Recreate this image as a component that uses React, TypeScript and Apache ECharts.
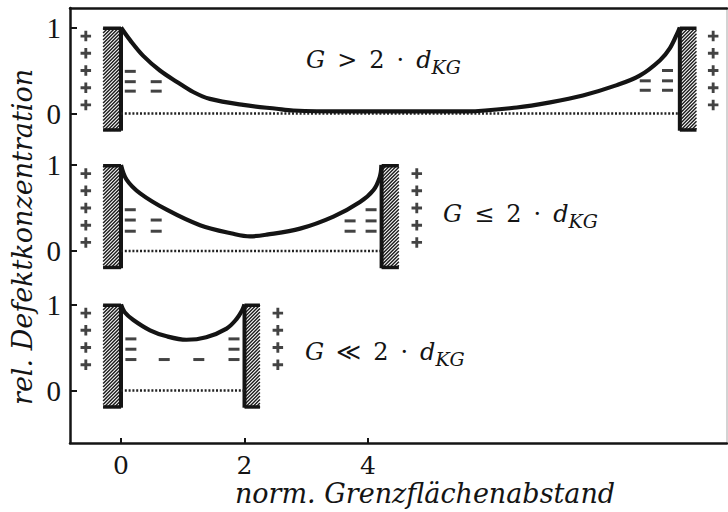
import { useEffect, useRef } from "react";
import * as echarts from "echarts";

// Shared horizontal scale (normalised interface distance)
const X_MIN = -0.826;
const X_MAX = 9.814;
const xTickValues = [0, 2, 4];
const yTickValues = [0, 1];

// Wall vertical extent (relative concentration units)
const WALL_TOP = 1;
const WALL_BOTTOM = -0.2;

// Panel A: G > 2·d_KG
const curveA: [number, number][] = [
  [0, 1], [0.15, 0.85], [0.36, 0.67], [0.63, 0.5], [0.9, 0.37], [1.17, 0.25],
  [1.44, 0.17], [1.98, 0.1], [2.52, 0.055], [2.79, 0.035], [3.6, 0.025],
  [4.68, 0.025], [5.6, 0.025], [6.41, 0.07], [6.95, 0.13], [7.48, 0.21],
  [8.03, 0.33], [8.4, 0.44], [8.73, 0.62], [8.89, 0.76], [9.02, 0.95], [9.05, 1],
];
const wallsA: [number, number][] = [[-0.29, 0], [9.05, 9.32]];
const plusColsA = [-0.57, 9.59];
const plusLevelsA = [0.1, 0.3, 0.5, 0.7, 0.9];
const minusA: [number, number][] = [
  [0.15, 0.49], [0.15, 0.37], [0.15, 0.26], [0.57, 0.37], [0.57, 0.26],
  [8.85, 0.5], [8.85, 0.38], [8.85, 0.27], [8.49, 0.38], [8.49, 0.27],
];

// Panel B: G ≤ 2·d_KG
const curveB: [number, number][] = [
  [0, 1], [0.09, 0.83], [0.31, 0.67], [0.74, 0.48], [1.28, 0.3], [1.82, 0.2],
  [2.09, 0.17], [2.36, 0.19], [2.9, 0.26], [3.44, 0.4], [3.87, 0.57],
  [4.09, 0.71], [4.19, 0.86], [4.22, 1],
];
const wallsB: [number, number][] = [[-0.29, 0], [4.22, 4.5]];
const plusColsB = [-0.57, 4.79];
const plusLevelsB = [0.1, 0.3, 0.5, 0.7, 0.9];
const minusB: [number, number][] = [
  [0.15, 0.48], [0.15, 0.36], [0.15, 0.23], [0.57, 0.36], [0.57, 0.23],
  [4.05, 0.48], [4.05, 0.35], [4.05, 0.23], [3.71, 0.35], [3.71, 0.23],
];

// Panel C: G ≪ 2·d_KG
const curveC: [number, number][] = [
  [0, 1], [0.06, 0.91], [0.2, 0.82], [0.47, 0.7], [0.74, 0.63], [1.06, 0.59],
  [1.38, 0.62], [1.71, 0.72], [1.87, 0.83], [1.96, 0.93], [2, 1],
];
const wallsC: [number, number][] = [[-0.29, 0], [2.0, 2.25]];
const plusColsC = [-0.57, 2.54];
const plusLevelsC = [0.3, 0.5, 0.7, 0.9];
const minusC: [number, number][] = [
  [0.16, 0.6], [0.16, 0.48], [0.16, 0.36], [0.7, 0.36], [1.26, 0.36],
  [1.83, 0.6], [1.83, 0.48], [1.83, 0.36],
];

const INK = "#141414";
const PLUS_PATH = "path://M4 0h3v4h4v3h-4v4h-3v-4h-4v-3h4z";

type Panel = {
  curve: [number, number][];
  walls: [number, number][];
  plusCols: number[];
  plusLevels: number[];
  minus: [number, number][];
  top: number;
};

const PX_PER_UNIT = 86;
const panels: Panel[] = [
  { curve: curveA, walls: wallsA, plusCols: plusColsA, plusLevels: plusLevelsA, minus: minusA, top: 27.5 },
  { curve: curveB, walls: wallsB, plusCols: plusColsB, plusLevels: plusLevelsB, minus: minusB, top: 165 },
  { curve: curveC, walls: wallsC, plusCols: plusColsC, plusLevels: plusLevelsC, minus: minusC, top: 304.5 },
];

// Hatched wall: "/" hatching clipped to the rectangle, thick inner edge and caps
function renderWall(_params: any, api: any) {
  const a = api.value(0) as number;
  const b = api.value(1) as number;
  const p0 = api.coord([Math.min(a, b), WALL_TOP]);
  const p1 = api.coord([Math.max(a, b), WALL_BOTTOM]);
  const L = p0[0], T = p0[1], R = p1[0], B = p1[1];
  const innerX = Math.max(a, b) <= 0 ? R : L;
  const children: any[] = [];
  for (let c = L + T + 2; c <= R + B; c += 3.5) {
    const xs = Math.max(L, c - B);
    const xe = Math.min(R, c - T);
    if (xe > xs) {
      children.push({
        type: "line",
        shape: { x1: xs, y1: c - xs, x2: xe, y2: c - xe },
        style: { stroke: "#1c1c1c", lineWidth: 1.45 },
      });
    }
  }
  children.push({
    type: "line",
    shape: { x1: innerX, y1: T, x2: innerX, y2: B },
    style: { stroke: INK, lineWidth: 4 },
  });
  children.push({ type: "rect", shape: { x: L, y: T - 1, width: R - L, height: 3.5 }, style: { fill: INK } });
  children.push({ type: "rect", shape: { x: L, y: B - 2.5, width: R - L, height: 3.5 }, style: { fill: INK } });
  return { type: "group", children };
}

function buildOption() {
  const grids: any[] = [{ left: 70, top: 8, width: 657, height: 435 }];
  const xAxes: any[] = [
    {
      gridIndex: 0, type: "value", min: X_MIN, max: X_MAX, position: "bottom",
      axisLine: { onZero: false, lineStyle: { color: INK, width: 2.5 } },
      axisTick: { inside: true, length: 5, customValues: xTickValues, lineStyle: { color: INK, width: 2 } },
      axisLabel: { customValues: xTickValues, fontFamily: "DejaVu Serif", fontSize: 25, color: INK, margin: 10 },
      splitLine: { show: false },
    },
    {
      gridIndex: 0, type: "value", min: X_MIN, max: X_MAX, position: "top",
      axisLine: { onZero: false, lineStyle: { color: INK, width: 2.5 } },
      axisTick: { show: false }, axisLabel: { show: false }, splitLine: { show: false },
    },
  ];
  const yAxes: any[] = [
    {
      gridIndex: 0, type: "value", min: 0, max: 1, position: "left",
      axisLine: { show: true, onZero: false, lineStyle: { color: INK, width: 2.5 } },
      axisTick: { show: false }, axisLabel: { show: false }, splitLine: { show: false },
    },
    {
      gridIndex: 0, type: "value", min: 0, max: 1, position: "right",
      axisLine: { show: true, onZero: false, lineStyle: { color: "#c4c4c4", width: 1.5 } },
      axisTick: { show: false }, axisLabel: { show: false }, splitLine: { show: false },
    },
  ];
  const series: any[] = [];

  panels.forEach((p, i) => {
    const g = i + 1;
    const ax = xAxes.length;
    const ay = yAxes.length;
    grids.push({ left: 70, width: 657, top: p.top - 0.1 * PX_PER_UNIT, height: 1.4 * PX_PER_UNIT });
    xAxes.push({ gridIndex: g, type: "value", min: X_MIN, max: X_MAX, show: false });
    yAxes.push({
      gridIndex: g, type: "value", min: -0.3, max: 1.1,
      axisLine: { show: false, onZero: false },
      axisTick: { show: true, inside: true, length: 7, customValues: yTickValues, lineStyle: { color: INK, width: 2 } },
      axisLabel: { customValues: yTickValues, fontFamily: "Liberation Serif", fontSize: 29, color: INK, margin: 9 },
      splitLine: { show: false },
    });
    const right = Math.max(...p.walls.map((w) => Math.min(w[0], w[1])));
    series.push({
      type: "line", xAxisIndex: ax, yAxisIndex: ay, data: [[0, 0], [right, 0]],
      showSymbol: false, silent: true,
      lineStyle: { color: "#222", width: 2.4, type: [2, 1.8] },
    });
    series.push({
      type: "line", xAxisIndex: ax, yAxisIndex: ay, data: p.curve,
      showSymbol: false, smooth: 0.35, silent: true,
      lineStyle: { color: INK, width: 4.2 },
    });
    series.push({
      type: "custom", xAxisIndex: ax, yAxisIndex: ay, data: p.walls,
      renderItem: renderWall, silent: true,
    });
    const plusData: [number, number][] = [];
    p.plusCols.forEach((c) => p.plusLevels.forEach((lv) => plusData.push([c, lv])));
    series.push({
      type: "scatter", xAxisIndex: ax, yAxisIndex: ay, data: plusData,
      symbol: PLUS_PATH, symbolSize: 10.5, itemStyle: { color: INK }, silent: true,
    });
    series.push({
      type: "scatter", xAxisIndex: ax, yAxisIndex: ay, data: p.minus,
      symbol: "rect", symbolSize: [11, 3], itemStyle: { color: INK }, silent: true,
    });
  });

  const rich = {
    i: { fontFamily: "DejaVu Serif", fontStyle: "italic", fontSize: 24, fill: INK, color: INK },
    s: { fontFamily: "DejaVu Serif", fontStyle: "italic", fontSize: 19, fill: INK, color: INK, padding: [14, 0, 0, 0] },
  };
  const condition = (text: string, x: number, y: number) => ({
    type: "text", x, y,
    style: {
      text, rich, fontFamily: "DejaVu Serif", fontSize: 24, fill: INK,
      verticalAlign: "middle", align: "left",
    },
  });

  return {
    animation: false,
    backgroundColor: "#ffffff",
    grid: grids,
    xAxis: xAxes,
    yAxis: yAxes,
    series,
    graphic: [
      condition("{i|G}\u2002>\u20022\u2002·\u2002{i|d}{s|KG}", 306, 60),
      condition("{i|G}\u2002≤\u20022\u2002·\u2002{i|d}{s|KG}", 443, 214),
      condition("{i|G}\u2002≪\u20022\u2002·\u2002{i|d}{s|KG}", 305, 352),
      {
        type: "text", x: 22, y: 237, rotation: Math.PI / 2,
        style: {
          text: "rel. Defektkonzentration", fontFamily: "DejaVu Serif", fontStyle: "italic",
          fontSize: 27, fill: INK, align: "center", verticalAlign: "middle",
        },
      },
      {
        type: "text", x: 425, y: 493,
        style: {
          text: "norm. Grenzflächenabstand", fontFamily: "DejaVu Serif", fontStyle: "italic",
          fontSize: 27, fill: INK, align: "center", verticalAlign: "middle",
        },
      },
    ],
  };
}

export default function App() {
  const ref = useRef<HTMLDivElement>(null);
  useEffect(() => {
    if (!ref.current) return;
    const chart = echarts.init(ref.current, null, { renderer: "svg" });
    chart.setOption(buildOption() as any);
    return () => chart.dispose();
  }, []);
  return (
    <div
      ref={ref}
      style={{ position: "fixed", left: 0, top: 0, width: 728, height: 512, background: "#fff" }}
    />
  );
}
